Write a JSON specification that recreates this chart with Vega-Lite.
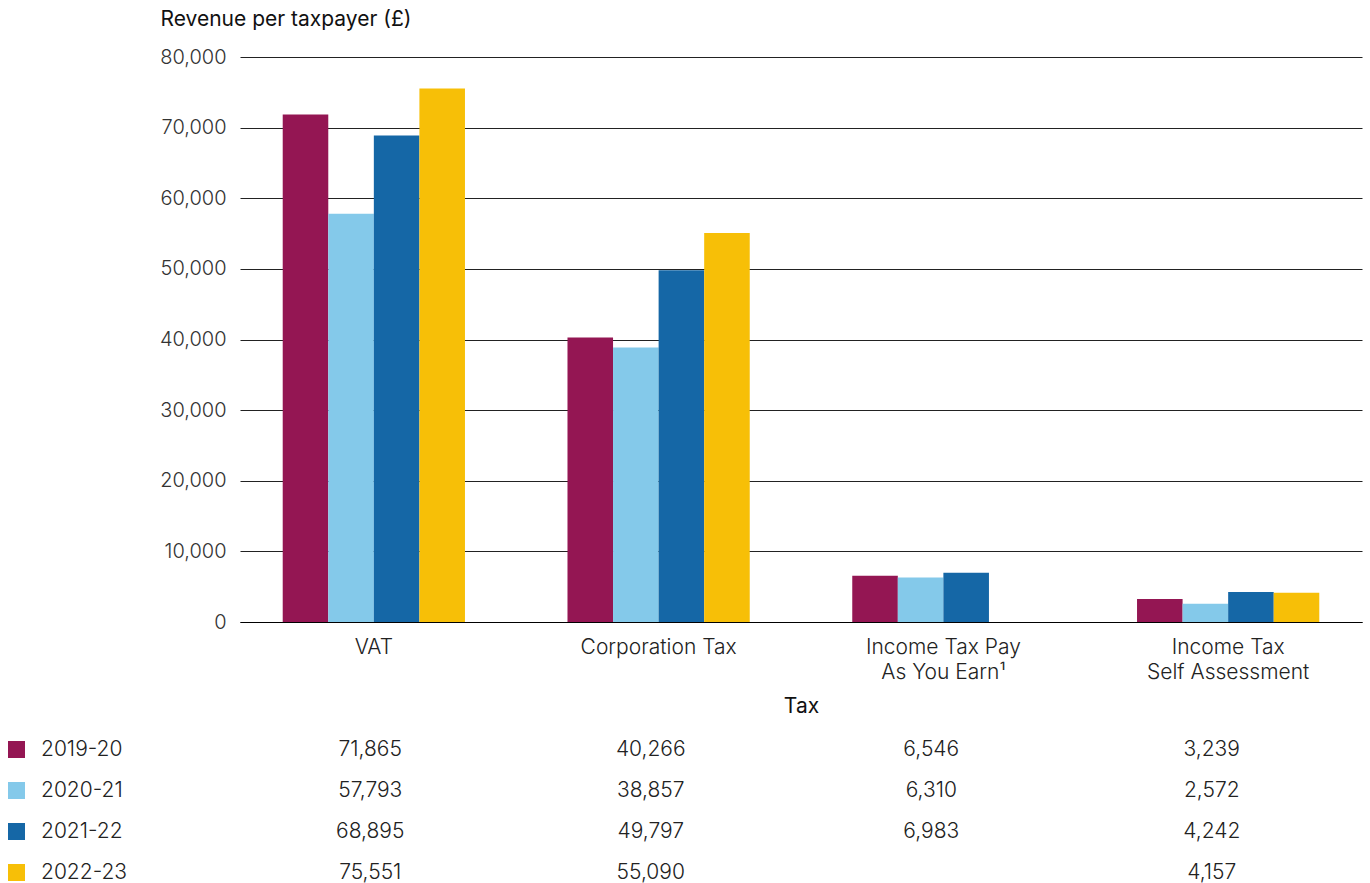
{
  "$schema": "https://vega.github.io/schema/vega-lite/v6.json",
  "padding": {"left": 6, "top": 8, "right": 8, "bottom": 3},
  "background": "white",
  "config": {
    "font": "Inter",
    "view": {"stroke": null},
    "concat": {"spacing": 13}
  },
  "datasets": {
    "rev": [
      {"tax": "VAT", "year": "2019-20", "value": 71865},
      {"tax": "VAT", "year": "2020-21", "value": 57793},
      {"tax": "VAT", "year": "2021-22", "value": 68895},
      {"tax": "VAT", "year": "2022-23", "value": 75551},
      {"tax": "Corporation Tax", "year": "2019-20", "value": 40266},
      {"tax": "Corporation Tax", "year": "2020-21", "value": 38857},
      {"tax": "Corporation Tax", "year": "2021-22", "value": 49797},
      {"tax": "Corporation Tax", "year": "2022-23", "value": 55090},
      {"tax": "Income Tax Pay As You Earn¹", "year": "2019-20", "value": 6546},
      {"tax": "Income Tax Pay As You Earn¹", "year": "2020-21", "value": 6310},
      {"tax": "Income Tax Pay As You Earn¹", "year": "2021-22", "value": 6983},
      {"tax": "Income Tax Self Assessment", "year": "2019-20", "value": 3239},
      {"tax": "Income Tax Self Assessment", "year": "2020-21", "value": 2572},
      {"tax": "Income Tax Self Assessment", "year": "2021-22", "value": 4242},
      {"tax": "Income Tax Self Assessment", "year": "2022-23", "value": 4157}
    ]
  },
  "vconcat": [
    {
      "width": 1122,
      "height": 565,
      "data": {"name": "rev"},
      "mark": {"type": "bar"},
      "encoding": {
        "x": {
          "field": "tax", "type": "nominal",
          "sort": ["VAT", "Corporation Tax", "Income Tax Pay As You Earn¹", "Income Tax Self Assessment"],
          "scale": {"paddingInner": 0.36, "paddingOuter": 0.15},
          "title": "Tax",
          "axis": {
            "labelAngle": 0,
            "labelFontSize": 21,
            "labelFontWeight": 300,
            "labelColor": "#222",
            "labelPadding": 14,
            "labelLineHeight": 25,
            "labelExpr": "datum.value == 'Income Tax Pay As You Earn¹' ? ['Income Tax Pay', 'As You Earn¹'] : datum.value == 'Income Tax Self Assessment' ? ['Income Tax', 'Self Assessment'] : datum.label",
            "ticks": false,
            "domain": true,
            "domainColor": "#000",
            "domainWidth": 1,
            "titleFontSize": 21,
            "titleFontWeight": "normal",
            "titleColor": "#111",
            "titlePadding": 13
          }
        },
        "xOffset": {
          "field": "year", "type": "nominal",
          "sort": ["2019-20", "2020-21", "2021-22", "2022-23"],
          "scale": {"paddingInner": 0, "paddingOuter": 0}
        },
        "y": {
          "field": "value", "type": "quantitative",
          "scale": {"domain": [0, 80000]},
          "axis": {
            "title": "Revenue per taxpayer (£)",
            "titleAngle": 0,
            "titleAlign": "left",
            "titleBaseline": "middle",
            "titleX": -80,
            "titleY": -38,
            "titleFontSize": 21,
            "titleFontWeight": "normal",
            "titleColor": "#111",
            "tickCount": 8,
            "domain": false,
            "ticks": false,
            "grid": true,
            "gridColor": "#222",
            "gridWidth": 1,
            "labelFontSize": 20,
            "labelFontWeight": 300,
            "labelColor": "#333",
            "labelPadding": 14,
            "format": ",d"
          }
        },
        "color": {
          "field": "year", "type": "nominal",
          "scale": {
            "domain": ["2019-20", "2020-21", "2021-22", "2022-23"],
            "range": ["#941653", "#84C9EA", "#1567A6", "#F7BF07"]
          },
          "legend": {
            "orient": "none",
            "legendX": -234,
            "legendY": 682,
            "title": null,
            "direction": "vertical",
            "symbolType": "square",
            "symbolSize": 289,
            "symbolStrokeWidth": 0,
            "symbolOpacity": 1,
            "labelFontSize": 21,
            "labelFontWeight": 300,
            "labelColor": "#222",
            "labelOffset": 14,
            "rowPadding": 19
          }
        }
      }
    },
    {
      "width": 1122,
      "height": 165,
      "data": {"name": "rev"},
      "mark": {"type": "text", "fontSize": 21, "fontWeight": 300, "color": "#222", "dx": -10},
      "encoding": {
        "x": {
          "field": "tax", "type": "nominal",
          "sort": ["VAT", "Corporation Tax", "Income Tax Pay As You Earn¹", "Income Tax Self Assessment"],
          "scale": {"paddingInner": 0.36, "paddingOuter": 0.15},
          "axis": null
        },
        "y": {
          "field": "year", "type": "nominal",
          "sort": ["2019-20", "2020-21", "2021-22", "2022-23"],
          "scale": {"paddingInner": 0, "paddingOuter": 0},
          "axis": null
        },
        "text": {"field": "value", "type": "quantitative", "format": ","}
      }
    }
  ]
}
